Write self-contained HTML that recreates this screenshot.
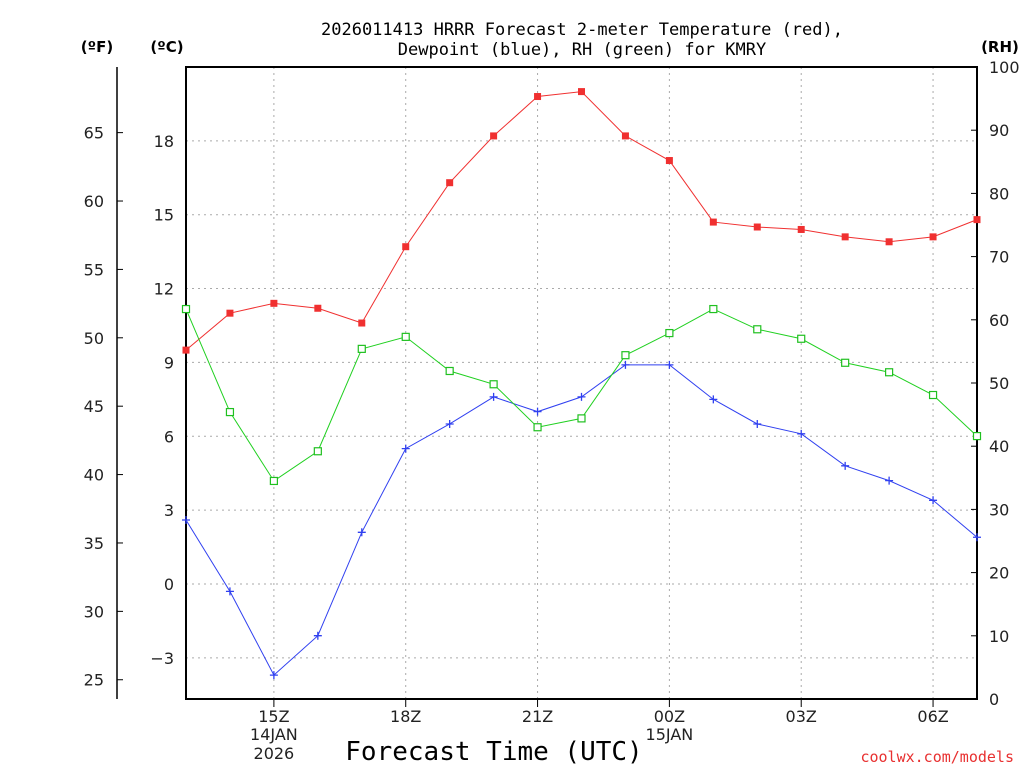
<!DOCTYPE html>
<html><head><meta charset="utf-8"><style>
body{margin:0;background:#fff;}
svg{display:block;font-family:"DejaVu Sans","Liberation Sans",sans-serif;}
</style></head><body>
<svg id="chart" width="1024" height="768" viewBox="0 0 1024 768" xmlns="http://www.w3.org/2000/svg">
<text x="582" y="35" text-anchor="middle" font-size="17" font-family="DejaVu Sans Mono,Liberation Mono,monospace">2026011413 HRRR Forecast 2-meter Temperature (red),</text>
<text x="582" y="55" text-anchor="middle" font-size="17" font-family="DejaVu Sans Mono,Liberation Mono,monospace">Dewpoint (blue), RH (green) for KMRY</text>
<text x="97" y="52" text-anchor="middle" font-size="15" font-weight="bold">(ºF)</text>
<text x="167" y="52" text-anchor="middle" font-size="15" font-weight="bold">(ºC)</text>
<text x="1000" y="52" text-anchor="middle" font-size="15" font-weight="bold">(RH)</text>
<text x="494" y="760" text-anchor="middle" font-size="26" font-family="DejaVu Sans Mono,Liberation Mono,monospace">Forecast Time (UTC)</text>
<text x="1014" y="762" text-anchor="end" font-size="15" fill="#e83030" font-family="DejaVu Sans Mono,Liberation Mono,monospace">coolwx.com/models</text>
<g id="grid"></g><g id="axes"></g><g id="series"></g>
</svg>
<script>
const hours = [13,14,15,16,17,18,19,20,21,22,23,24,25,26,27,28,29,30,31];
const tempC = [9.5,11.0,11.4,11.2,10.6,13.7,16.3,18.2,19.8,20.0,18.2,17.2,14.7,14.5,14.4,14.1,13.9,14.1,14.8];
const dewC = [2.6,-0.3,-3.7,-2.1,2.1,5.5,6.5,7.6,7.0,7.6,8.9,8.9,7.5,6.5,6.1,4.8,4.2,3.4,1.9];
const rh = [61.7,45.4,34.5,39.2,55.4,57.3,51.9,49.8,43.0,44.4,54.4,57.9,61.7,58.5,57.0,53.2,51.7,48.1,41.6];
const cTicks = [-3,0,3,6,9,12,15,18];
const fTicks = [25,30,35,40,45,50,55,60,65];
const rhTicks = [0,10,20,30,40,50,60,70,80,90,100];
const xTickHours = [15,18,21,24,27,30];
const xTickLabels = ["15Z","18Z","21Z","00Z","03Z","06Z"];

const L=186,R=977,T=67,B=699;
const x = h => L + (h-13)*(R-L)/18;
const yC = c => 584 - c*24.62;
const yF = f => yC((f-32)*5/9);
const yRH = v => B - v*(B-T)/100;
const NS="http://www.w3.org/2000/svg";
function mk(parent,tag,attrs,text){const e=document.createElementNS(NS,tag);for(const k in attrs)e.setAttribute(k,attrs[k]);if(text!==undefined)e.textContent=text;document.getElementById(parent).appendChild(e);return e;}

cTicks.forEach(c=>{
 const g=mk('grid','line',{x1:L,x2:R,y1:yC(c),y2:yC(c),stroke:'#aaa','stroke-dasharray':'2,4'});
 
 
 const t=mk('axes','text',{x:174,y:yC(c)+6,'text-anchor':'end','font-size':16,fill:'#222'},c<0?'\u2212'+(-c):String(c));
 
 
});
xTickHours.forEach((h,i)=>{
 const g=mk('grid','line',{x1:x(h),x2:x(h),y1:T,y2:B,stroke:'#aaa','stroke-dasharray':'2,4'});
 
 
 const tk=mk('axes','line',{x1:x(h),x2:x(h),y1:B,y2:B+8,stroke:'#000'});
 
 
 const t=mk('axes','text',{x:x(h),y:722,'text-anchor':'middle','font-size':16,fill:'#222'},xTickLabels[i]);
 
 
});
[[15,'14JAN',740],[15,'2026',759],[24,'15JAN',740]].forEach(d=>{
 const t=mk('axes','text',{x:x(d[0]),y:d[2],'text-anchor':'middle','font-size':16,fill:'#222'},d[1]);
 
 
});
fTicks.forEach(f=>{
 const t=mk('axes','text',{x:104,y:yF(f)+6,'text-anchor':'end','font-size':16,fill:'#222'},String(f));
 
 
 const tk=mk('axes','line',{x1:117,x2:123,y1:yF(f),y2:yF(f),stroke:'#000'});
 
 
});
rhTicks.forEach(v=>{
 const t=mk('axes','text',{x:989,y:yRH(v)+6,'font-size':16,fill:'#222'},String(v));
 
 
 const tk=mk('axes','line',{x1:R-6,x2:R,y1:yRH(v),y2:yRH(v),stroke:'#000'});
 
 
});
const fa=mk('axes','line',{x1:117,x2:117,y1:67,y2:699,stroke:'#000','stroke-width':1.5});


const fr=mk('axes','rect',{x:L,y:T,width:R-L,height:B-T,fill:'none',stroke:'#000','stroke-width':2});



function line(vals,fy,color,name){
 const p=mk('series','polyline',{points:vals.map((v,i)=>x(hours[i])+','+fy(v)).join(' '),fill:'none',stroke:color,'stroke-width':1});
 
 
}
line(tempC,yC,'#f03030','temperature');
line(dewC,yC,'#3040f0','dewpoint');
line(rh,yRH,'#20d020','rh');
tempC.forEach((v,i)=>{
 const m=mk('series','rect',{x:x(hours[i])-3.5,y:yC(v)-3.5,width:7,height:7,fill:'#f03030'});
 
 
});
rh.forEach((v,i)=>{
 const m=mk('series','rect',{x:x(hours[i])-3.5,y:yRH(v)-3.5,width:7,height:7,fill:'#fff',stroke:'#20c020','stroke-width':1.2});
 
 
});
dewC.forEach((v,i)=>{
 const cx=x(hours[i]),cy=yC(v);
 const m=mk('series','path',{d:`M${cx-4},${cy}H${cx+4}M${cx},${cy-4}V${cy+4}`,stroke:'#3040f0','stroke-width':1.3});
 
 
});
</script>
</body></html>
